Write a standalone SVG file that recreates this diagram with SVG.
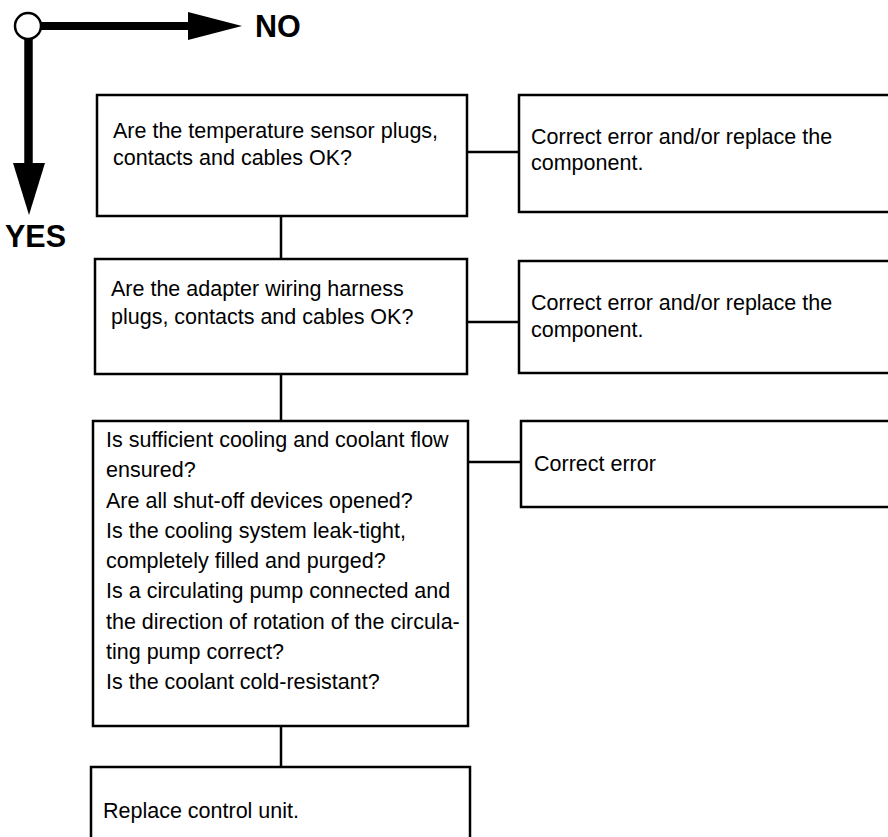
<svg xmlns="http://www.w3.org/2000/svg" width="888" height="837" viewBox="0 0 888 837">
<style>
.box{fill:#fff;stroke:#000;stroke-width:2.5}
.t{font-family:"Liberation Sans",Arial,sans-serif;font-size:21.5px;fill:#000}
.big{font-family:"Liberation Sans",Arial,sans-serif;font-size:30.5px;font-weight:bold;fill:#000}
.c{stroke:#000;stroke-width:2.5;fill:none}
</style>
<rect width="888" height="837" fill="#fff"/>
<g id="legend">
<line x1="40" y1="26" x2="192" y2="26" stroke="#000" stroke-width="8"/>
<polygon points="188,12 242,26 188,40" fill="#000"/>
<line x1="28.5" y1="38" x2="28.5" y2="166" stroke="#000" stroke-width="8.5"/>
<polygon points="13,163 45,163 29,215" fill="#000"/>
<circle cx="28" cy="26" r="13" fill="#fff" stroke="#000" stroke-width="2.5"/>
<text class="big" x="255" y="37">NO</text>
<text class="big" x="5" y="247">YES</text>
</g>
<g id="connectors">
<line class="c" x1="281" y1="216" x2="281" y2="259"/>
<line class="c" x1="281" y1="374" x2="281" y2="421"/>
<line class="c" x1="281" y1="726" x2="281" y2="767"/>
<line class="c" x1="467" y1="152" x2="519" y2="152"/>
<line class="c" x1="467" y1="322" x2="519" y2="322"/>
<line class="c" x1="468" y1="462" x2="521" y2="462"/>
</g>
<g id="q1">
<rect class="box" x="97" y="95" width="370" height="121"/>
<text class="t" x="113" y="138">Are the temperature sensor plugs,</text>
<text class="t" x="113" y="165">contacts and cables OK?</text>
</g>
<g id="a1">
<rect class="box" x="519" y="95" width="380" height="117"/>
<text class="t" x="531" y="144">Correct error and/or replace the</text>
<text class="t" x="531" y="170">component.</text>
</g>
<g id="q2">
<rect class="box" x="95" y="259" width="372" height="115"/>
<text class="t" x="111" y="296">Are the adapter wiring harness</text>
<text class="t" x="111" y="324">plugs, contacts and cables OK?</text>
</g>
<g id="a2">
<rect class="box" x="519" y="261" width="380" height="112"/>
<text class="t" x="531" y="310">Correct error and/or replace the</text>
<text class="t" x="531" y="337">component.</text>
</g>
<g id="q3">
<rect class="box" x="93" y="421" width="375" height="305"/>
<text class="t" x="106" y="447">Is sufficient cooling and coolant flow</text>
<text class="t" x="106" y="477.2">ensured?</text>
<text class="t" x="106" y="507.5">Are all shut-off devices opened?</text>
<text class="t" x="106" y="537.7">Is the cooling system leak-tight,</text>
<text class="t" x="106" y="568">completely filled and purged?</text>
<text class="t" x="106" y="598.2">Is a circulating pump connected and</text>
<text class="t" x="106" y="628.5">the direction of rotation of the circula-</text>
<text class="t" x="106" y="658.7">ting pump correct?</text>
<text class="t" x="106" y="689">Is the coolant cold-resistant?</text>
</g>
<g id="a3">
<rect class="box" x="521" y="421" width="380" height="86"/>
<text class="t" x="534" y="471">Correct error</text>
</g>
<g id="end">
<rect class="box" x="91" y="767" width="379" height="90"/>
<text class="t" x="103" y="818">Replace control unit.</text>
</g>
</svg>
